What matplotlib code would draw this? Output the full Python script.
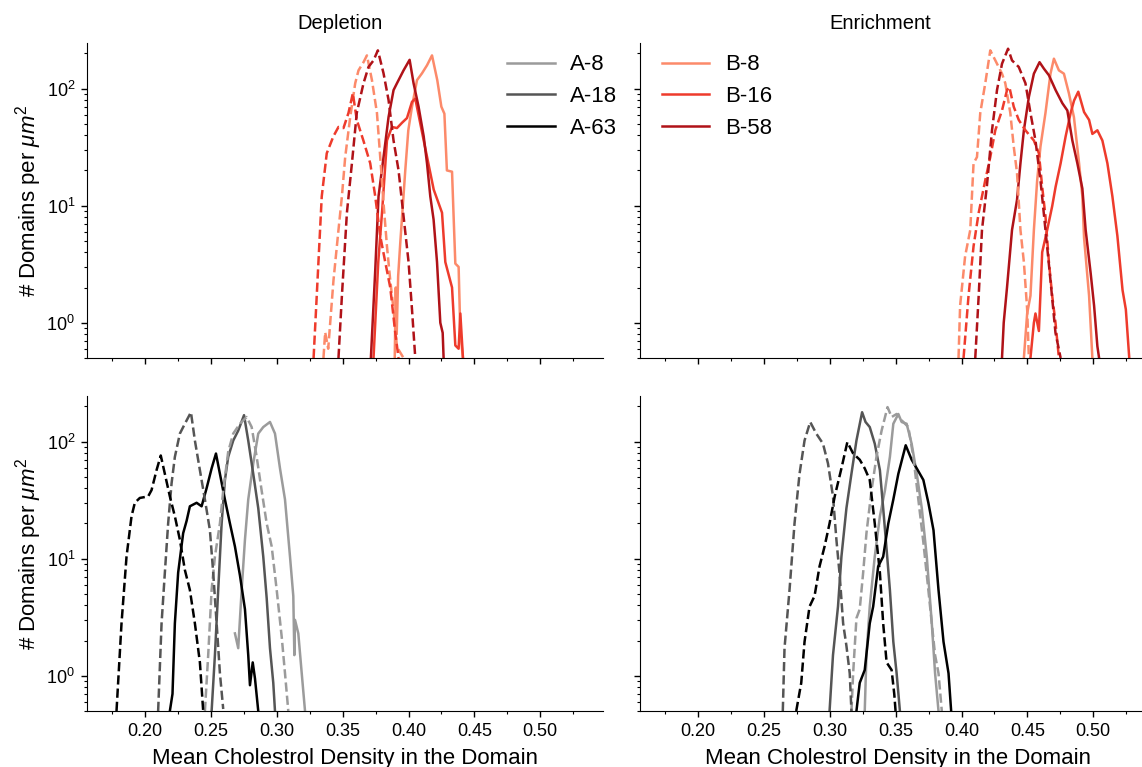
import matplotlib
matplotlib.use('Agg')
from matplotlib import pyplot as plt

plt.rcParams['font.family'] = ['Liberation Sans', 'DejaVu Sans']
plt.rcParams['mathtext.fontset'] = 'custom'
plt.rcParams['mathtext.rm'] = 'Liberation Sans'
plt.rcParams['mathtext.it'] = 'Liberation Sans:italic'

# ---- Depletion, B series (top left) ----
dep_b8_x = [0.3895, 0.3903, 0.3910, 0.3921, 0.3937, 0.3975, 0.3998, 0.4026, 0.4064, 0.4102, 0.4140, 0.4178,
            0.4218, 0.4249, 0.4272, 0.4291, 0.4330, 0.4342, 0.4355, 0.4380, 0.4393, 0.4413]
dep_b8_y = [0.5, 2.0, 0.8, 2.5, 4.8, 20, 44, 70, 118, 135, 158, 192, 118, 70, 61, 20, 19.5, 8.1, 3.2, 3.0, 0.82, 0.5]
dep_b16_x = [0.3734, 0.3770, 0.3800, 0.3836, 0.3874, 0.3912, 0.3950, 0.3988, 0.4026, 0.4051, 0.4115, 0.4191,
             0.4254, 0.4279, 0.4330, 0.4355, 0.4380, 0.4393, 0.4413]
dep_b16_y = [0.5, 3.3, 9.2, 36, 47, 46, 51, 56, 77, 82, 36, 13.7, 8.7, 3.3, 2.0, 0.64, 0.6, 1.2, 0.5]
dep_b58_x = [0.3714, 0.3747, 0.3772, 0.3810, 0.3848, 0.3886, 0.3912, 0.3962, 0.4008, 0.4038, 0.4076, 0.4115,
             0.4140, 0.4165, 0.4190, 0.4216, 0.4241, 0.4259, 0.4266]
dep_b58_y = [0.5, 2.8, 12, 26, 57, 97, 111, 143, 176, 111, 70, 39, 23, 12, 7.6, 3.3, 1.0, 0.82, 0.5]
dep_b8d_x = [0.3354, 0.3367, 0.3390, 0.3430, 0.3468, 0.3494, 0.3519, 0.3557, 0.3595, 0.3620, 0.3658, 0.3684,
             0.3722, 0.3760, 0.3785, 0.3810, 0.3836, 0.3861, 0.3886, 0.3912, 0.3962]
dep_b8d_y = [0.5, 0.83, 0.6, 2.3, 6.2, 12, 26, 57, 111, 143, 168, 192, 118, 62, 26, 10.5, 4.5, 2.3, 1.3, 0.62, 0.5]
dep_b16d_x = [0.3279, 0.3303, 0.3341, 0.3379, 0.3429, 0.3468, 0.3506, 0.3544, 0.3577, 0.3607, 0.3657, 0.3709,
              0.3747, 0.3785, 0.3823, 0.3861, 0.3899, 0.3924]
dep_b16d_y = [0.5, 1.7, 12, 28, 39, 47, 46, 62, 91, 54, 36, 23, 12, 5.5, 3.3, 2.0, 0.82, 0.5]
dep_b58d_x = [0.3468, 0.3494, 0.3532, 0.3570, 0.3607, 0.3658, 0.3696, 0.3734, 0.3767, 0.3810, 0.3848, 0.3886,
              0.3924, 0.3962, 0.4000, 0.4026, 0.4051]
dep_b58d_y = [0.5, 1.7, 8.7, 23, 62, 111, 153, 174, 212, 135, 80, 36, 20, 8.1, 3.3, 1.3, 0.5]

# ---- Enrichment, B series (top right) ----
enr_b8_x = [0.4473, 0.4498, 0.4523, 0.4549, 0.4574, 0.4599, 0.4637, 0.4675, 0.4701, 0.4739, 0.4777, 0.4815,
            0.4853, 0.4892, 0.4917, 0.4930, 0.4968, 0.4993]
enr_b8_y = [0.5, 1.2, 1.7, 6.2, 16.5, 32, 62, 134, 180, 143, 134, 91, 57, 23, 12, 5.3, 1.7, 0.5]
enr_b16_x = [0.4523, 0.4549, 0.4561, 0.4587, 0.4612, 0.4650, 0.4688, 0.4714, 0.4752, 0.4790, 0.4828, 0.4854,
             0.4886, 0.4930, 0.4968, 0.4993, 0.5031, 0.5069, 0.5107, 0.5145, 0.5183, 0.5222, 0.5247, 0.5273]
enr_b16_y = [0.5, 1.0, 1.2, 0.85, 4.0, 6.2, 9.9, 14.5, 23, 39, 62, 79, 94, 63, 54, 41, 44, 36, 23, 12, 5.5, 1.9,
             1.3, 0.5]
enr_b58_x = [0.4307, 0.4320, 0.4345, 0.4383, 0.4421, 0.4447, 0.4473, 0.4511, 0.4549, 0.4592, 0.4625, 0.4663,
             0.4714, 0.4765, 0.4803, 0.4841, 0.4879, 0.4917, 0.4942, 0.4980, 0.5006, 0.5031, 0.5044]
enr_b58_y = [0.5, 1.0, 2.0, 6.2, 11.2, 23, 44, 85, 134, 168, 148, 130, 97, 75, 65, 36, 23, 14, 6.2, 2.65, 1.4,
             0.63, 0.5]
enr_b8d_x = [0.3977, 0.3989, 0.4027, 0.4066, 0.4091, 0.4117, 0.4142, 0.4180, 0.4218, 0.4269, 0.4307, 0.4332,
             0.4370, 0.4396, 0.4421, 0.4447, 0.4473, 0.4498, 0.4511]
enr_b8d_y = [0.5, 1.4, 3.7, 6.2, 23, 26, 62, 111, 212, 163, 134, 111, 62, 32, 19, 6.2, 3.3, 1.3, 0.5]
enr_b16d_x = [0.4015, 0.4053, 0.4091, 0.4130, 0.4180, 0.4218, 0.4256, 0.4307, 0.4345, 0.4363, 0.4396, 0.4434,
              0.4485, 0.4549, 0.4587, 0.4612, 0.4637, 0.4663, 0.4688, 0.4713, 0.4739]
enr_b16d_y = [0.5, 1.7, 4.5, 8.7, 16.5, 26, 44, 65, 97, 103, 70, 54, 44, 36, 28, 14.5, 8.1, 3.3, 1.7, 1.0, 0.5]
enr_b58d_x = [0.4104, 0.4130, 0.4155, 0.4193, 0.4231, 0.4269, 0.4307, 0.4353, 0.4383, 0.4434, 0.4485, 0.4523,
              0.4561, 0.4599, 0.4637, 0.4675, 0.4713, 0.4752]
enr_b58d_y = [0.5, 1.7, 6.2, 15, 44, 97, 163, 219, 174, 153, 111, 62, 36, 16.5, 6.2, 2.3, 0.82, 0.5]

# ---- Depletion, A series (bottom left) ----
dep_a8_x = [0.2682, 0.2707, 0.2733, 0.2758, 0.2783, 0.2821, 0.2859, 0.2897, 0.2948, 0.2986, 0.3024, 0.3062,
            0.3100, 0.3125, 0.3133, 0.3138, 0.3163, 0.3189, 0.3214]
dep_a8_y = [2.3, 1.72, 5.4, 14.5, 32, 65, 117, 133, 147, 117, 59, 32, 10.4, 4.8, 1.5, 3.0, 2.3, 1.05, 0.5]
dep_a18_x = [0.2505, 0.2530, 0.2555, 0.2581, 0.2606, 0.2631, 0.2669, 0.2707, 0.2751, 0.2783, 0.2821, 0.2859,
             0.2897, 0.2923, 0.2948, 0.2973, 0.2986]
dep_a18_y = [0.5, 1.5, 5.4, 20, 47, 74, 102, 124, 168, 102, 53, 27, 10.4, 4.6, 1.72, 0.87, 0.5]
dep_a63_x = [0.2188, 0.2208, 0.2226, 0.2251, 0.2289, 0.2315, 0.2340, 0.2391, 0.2429, 0.2467, 0.2505, 0.2538,
             0.2568, 0.2606, 0.2644, 0.2682, 0.2720, 0.2758, 0.2783, 0.2796, 0.2817, 0.2834, 0.2859]
dep_a63_y = [0.5, 0.7, 2.8, 7.6, 16.5, 21, 28, 30, 28, 40, 59, 79, 53, 32, 20, 12.7, 7.2, 3.7, 1.5, 0.83, 1.3,
             0.95, 0.5]
dep_a8d_x = [0.2454, 0.2479, 0.2505, 0.2530, 0.2568, 0.2593, 0.2631, 0.2669, 0.2720, 0.2771, 0.2809, 0.2847,
             0.2885, 0.2923, 0.2961, 0.2999, 0.3037, 0.3062, 0.3087]
dep_a8d_y = [0.5, 1.5, 5.4, 10.4, 20, 38, 82, 117, 142, 162, 133, 74, 38, 20, 12.7, 5.4, 2.15, 1.05, 0.5]
dep_a18d_x = [0.2099, 0.2125, 0.2150, 0.2175, 0.2201, 0.2226, 0.2264, 0.2302, 0.2348, 0.2378, 0.2416, 0.2454,
              0.2492, 0.2517, 0.2543, 0.2568, 0.2593]
dep_a18d_y = [0.5, 2.8, 7.6, 20, 44, 74, 117, 142, 178, 102, 57, 32, 17.5, 7.6, 2.8, 1.05, 0.52]
dep_a63d_x = [0.1783, 0.1821, 0.1859, 0.1897, 0.1922, 0.1960, 0.2023, 0.2049, 0.2087, 0.2119, 0.2150, 0.2188,
              0.2226, 0.2264, 0.2302, 0.2340, 0.2378, 0.2416, 0.2441]
dep_a63d_y = [0.5, 2.8, 10.4, 23, 30, 33, 34, 38.5, 57, 76, 53, 34, 23, 14.5, 8.0, 5.4, 2.8, 1.3, 0.5]

# ---- Enrichment, A series (bottom right) ----
enr_a8_x = [0.3265, 0.3278, 0.3303, 0.3341, 0.3380, 0.3418, 0.3456, 0.3482, 0.3520, 0.3545, 0.3583, 0.3621,
            0.3660, 0.3698, 0.3736, 0.3774, 0.3799, 0.3825]
enr_a8_y = [0.5, 1.5, 3.9, 10.4, 23, 38, 74, 142, 172, 147, 142, 96, 53, 27, 10.4, 2.8, 1.05, 0.5]
enr_a18_x = [0.2998, 0.3024, 0.3062, 0.3088, 0.3126, 0.3164, 0.3202, 0.3245, 0.3271, 0.3303, 0.3341, 0.3380,
             0.3405, 0.3431, 0.3456, 0.3482, 0.3507, 0.3532]
enr_a18_y = [0.5, 1.5, 3.9, 10.4, 27, 53, 102, 178, 147, 133, 96, 57, 27, 12, 5.4, 1.95, 1.05, 0.5]
enr_a63_x = [0.3202, 0.3227, 0.3265, 0.3303, 0.3329, 0.3367, 0.3405, 0.3444, 0.3482, 0.3520, 0.3576, 0.3621,
             0.3660, 0.3710, 0.3748, 0.3787, 0.3825, 0.3863, 0.3901, 0.3921]
enr_a63_y = [0.5, 0.87, 1.12, 2.8, 3.9, 8.6, 10.4, 20, 32, 53, 93, 70, 59, 47, 30, 17.5, 5.4, 1.95, 1.05, 0.5]
enr_a8d_x = [0.3164, 0.3177, 0.3202, 0.3227, 0.3253, 0.3278, 0.3316, 0.3354, 0.3393, 0.3438, 0.3469, 0.3507,
             0.3545, 0.3596, 0.3634, 0.3672, 0.3710, 0.3748, 0.3774, 0.3799, 0.3825, 0.3850]
enr_a8d_y = [0.5, 1.05, 3.1, 3.7, 7.6, 16.5, 38, 74, 124, 197, 162, 172, 152, 133, 74, 32, 13.8, 5.4, 2.8, 1.5,
             1.05, 0.5]
enr_a18d_x = [0.2643, 0.2656, 0.2694, 0.2732, 0.2770, 0.2808, 0.2851, 0.2897, 0.2948, 0.2986, 0.3024, 0.3050,
              0.3075, 0.3101, 0.3126, 0.3151, 0.3164]
enr_a18d_y = [0.5, 1.72, 5.4, 20, 53, 102, 147, 117, 96, 65, 34, 14.5, 7.2, 2.8, 1.8, 1.05, 0.5]
enr_a63d_x = [0.2745, 0.2783, 0.2808, 0.2846, 0.2884, 0.2922, 0.2960, 0.2998, 0.3037, 0.3088, 0.3133, 0.3177,
              0.3227, 0.3265, 0.3303, 0.3341, 0.3380, 0.3405, 0.3431, 0.3469, 0.3489, 0.3499]
enr_a63d_y = [0.5, 0.87, 1.95, 3.9, 4.8, 8.6, 12.7, 20, 34, 59, 99, 79, 70, 59, 47, 20, 7.6, 2.8, 1.3, 1.12,
              0.7, 0.5]

a_labels = ['A-8', 'A-18', 'A-63']
b_labels = ['B-8', 'B-16', 'B-58']
grey_colors = ['#9b9b9b', '#555555', '#000000']
red_colors = ['#fc8a6a', '#ee3b2c', '#b01218']

W, H = 1142, 767
fig = plt.figure(figsize=(W / 100, H / 100), dpi=100)

def px_axes(x0, y0, x1, y1):
    return fig.add_axes([x0 / W, 1 - y1 / H, (x1 - x0) / W, (y1 - y0) / H])

ax_tl = px_axes(87, 43, 603, 358)
ax_tr = px_axes(640, 43, 1156, 358)
ax_bl = px_axes(87, 396, 603, 711)
ax_br = px_axes(640, 396, 1156, 711)

lw = 1.8
panels = [
    (ax_tl, [(dep_b8_x, dep_b8_y), (dep_b16_x, dep_b16_y), (dep_b58_x, dep_b58_y)],
     [(dep_b8d_x, dep_b8d_y), (dep_b16d_x, dep_b16d_y), (dep_b58d_x, dep_b58d_y)], red_colors, b_labels),
    (ax_tr, [(enr_b8_x, enr_b8_y), (enr_b16_x, enr_b16_y), (enr_b58_x, enr_b58_y)],
     [(enr_b8d_x, enr_b8d_y), (enr_b16d_x, enr_b16d_y), (enr_b58d_x, enr_b58d_y)], red_colors, b_labels),
    (ax_bl, [(dep_a8_x, dep_a8_y), (dep_a18_x, dep_a18_y), (dep_a63_x, dep_a63_y)],
     [(dep_a8d_x, dep_a8d_y), (dep_a18d_x, dep_a18d_y), (dep_a63d_x, dep_a63d_y)], grey_colors, a_labels),
    (ax_br, [(enr_a8_x, enr_a8_y), (enr_a18_x, enr_a18_y), (enr_a63_x, enr_a63_y)],
     [(enr_a8d_x, enr_a8d_y), (enr_a18d_x, enr_a18d_y), (enr_a63d_x, enr_a63d_y)], grey_colors, a_labels),
]

handles = {}
for ax, solid, dashed, colors, labels in panels:
    for (x, y), c, lab in zip(solid, colors, labels):
        h, = ax.plot(x, y, color=c, lw=lw, label=lab)
        handles[lab] = h
    for (x, y), c in zip(dashed, colors):
        ax.plot(x, y, color=c, lw=lw, ls='--')
    ax.set_yscale('log')
    ax.set_ylim(0.5, 245)
    ax.set_xlim(0.1559, 0.5476)
    ax.set_xticks([0.20, 0.25, 0.30, 0.35, 0.40, 0.45, 0.50])
    ax.set_xticks([0.175, 0.225, 0.275, 0.325, 0.375, 0.425, 0.475, 0.525], minor=True)
    for s in ['top', 'right']:
        ax.spines[s].set_visible(False)
    ax.tick_params(which='major', length=4, width=1, labelsize=13, pad=4.5, direction='out')
    ax.tick_params(which='minor', length=2.5, width=0.8, direction='out')

for ax in [ax_tl, ax_tr]:
    ax.tick_params(labelbottom=False)
for ax in [ax_tr, ax_br]:
    ax.tick_params(labelleft=False)
for ax in [ax_tl, ax_bl]:
    ax.set_ylabel('# Domains per $\\mu m^2$', fontsize=16, labelpad=2)
for ax in [ax_bl, ax_br]:
    ax.set_xlabel('Mean Cholestrol Density in the Domain', fontsize=16, labelpad=6)
ax_tl.set_title('Depletion', fontsize=14.5, pad=10, x=0.491)
ax_tr.set_title('Enrichment', fontsize=14.5, pad=10, x=0.465)

leg_kw = dict(loc='upper left', frameon=False, fontsize=16, handlelength=2.15, handletextpad=0.7,
              labelspacing=0.48, borderpad=0, borderaxespad=0)
ax_tl.legend([handles[l] for l in a_labels], a_labels, bbox_to_anchor=(0.814, 0.964), **leg_kw)
ax_tr.legend([handles[l] for l in b_labels], b_labels, bbox_to_anchor=(0.042, 0.964), **leg_kw)

fig.savefig('out.png', dpi=100)
